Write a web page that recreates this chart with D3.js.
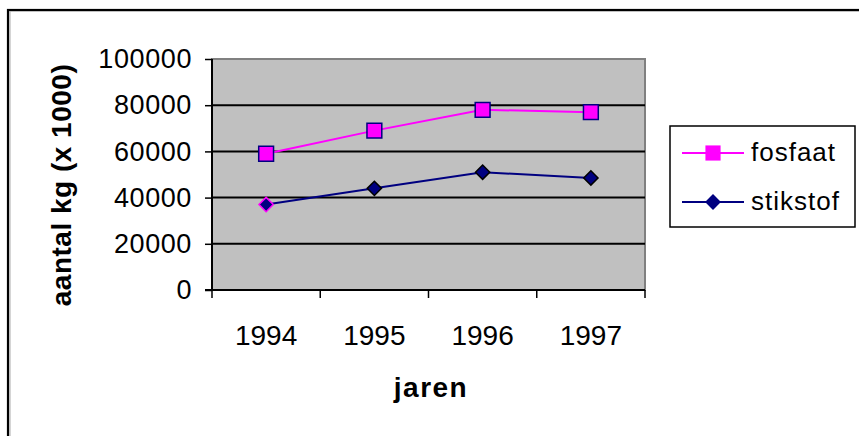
<!DOCTYPE html>
<html>
<head>
<meta charset="utf-8">
<script src="https://cdn.jsdelivr.net/npm/d3@7"></script>
<style>
  body { margin: 0; background: #fff; }
  text { font-family: Arial, "Liberation Sans", sans-serif; }
</style>
</head>
<body>
<svg id="body" width="859" height="436"></svg>
<script>
// data
let jaren = ["1994", "1995", "1996", "1997"];
let fosfaat = [59000, 69000, 78000, 77000];
let stikstof = [37000, 44000, 51000, 48500];
let yTicks = [0, 20000, 40000, 60000, 80000, 100000];
let reeksen = ["fosfaat", "stikstof"];

let svg = d3.select("#body");

// outer chart border (runs off the right and bottom)
svg.append("rect")
    .attr("x", 10).attr("y", 11)
    .attr("width", 1000).attr("height", 1000)
    .attr("fill", "none")
    .attr("stroke", "#c8c8c8")
    .attr("stroke-width", 1.5);
svg.append("rect")
    .attr("x", 8).attr("y", 10)
    .attr("width", 1000).attr("height", 1000)
    .attr("fill", "none")
    .attr("stroke", "#000")
    .attr("stroke-width", 2.2);

let xScale = d3.scaleBand()
    .domain(jaren)
    .range([212, 645]);

let yScale = d3.scaleLinear()
    .domain([0, 100000])
    .range([290, 59]);

// plot area
svg.append("rect")
    .attr("x", 212).attr("y", yScale(100000))
    .attr("width", 645 - 212).attr("height", yScale(0) - yScale(100000))
    .attr("fill", "#c0c0c0")
    .attr("stroke", "#808080")
    .attr("stroke-width", 2);

// gridlines
svg.append("g")
    .selectAll("line")
    .data(yTicks.filter(d => d > 0 && d < 100000))
    .enter()
    .append("line")
    .attr("x1", 212).attr("x2", 645)
    .attr("y1", d => yScale(d)).attr("y2", d => yScale(d))
    .attr("stroke", "#000")
    .attr("stroke-width", 2);

// y axis
let yAxis = d3.axisLeft(yScale)
    .tickValues(yTicks)
    .tickSize(7)
    .tickPadding(13)
    .tickFormat(d3.format("d"));

svg.append("g")
    .attr("id", "yAxis")
    .attr("transform", "translate(212, 0)")
    .call(yAxis)
    .call(g => g.select(".domain").attr("stroke-width", 2).attr("d", "M0,59V290"))
    .call(g => g.selectAll(".tick line").attr("stroke-width", 1.5))
    .call(g => g.selectAll("text")
        .attr("font-size", 27)
        .attr("letter-spacing", 0.6)
        .attr("fill", "#000")
        .attr("font-family", "Arial, 'Liberation Sans', sans-serif"));

// x axis: line, ticks at category boundaries, labels in the middle
let xAxis = svg.append("g").attr("id", "xAxis");
xAxis.append("line")
    .attr("x1", 205).attr("x2", 645)
    .attr("y1", 290).attr("y2", 290)
    .attr("stroke", "#000").attr("stroke-width", 2);
xAxis.selectAll(".grens")
    .data(jaren.map(d => xScale(d)).concat([xScale.range()[1]]))
    .enter()
    .append("line")
    .attr("class", "grens")
    .attr("x1", d => d).attr("x2", d => d)
    .attr("y1", 290).attr("y2", 298)
    .attr("stroke", "#000").attr("stroke-width", 1.5);
xAxis.selectAll(".label")
    .data(jaren)
    .enter()
    .append("text")
    .attr("class", "label")
    .attr("x", d => xScale(d) + xScale.bandwidth() / 2)
    .attr("y", 345)
    .attr("text-anchor", "middle")
    .attr("font-size", 28)
    .text(d => d);

// axis titles
svg.append("text")
    .attr("x", 431).attr("y", 397)
    .attr("text-anchor", "middle")
    .attr("font-size", 28)
    .attr("font-weight", "bold")
    .attr("letter-spacing", 1.5)
    .text("jaren");

svg.append("text")
    .attr("transform", "translate(71, 185) rotate(-90)")
    .attr("text-anchor", "middle")
    .attr("font-size", 28)
    .attr("font-weight", "bold")
    .attr("letter-spacing", 0.5)
    .text("aantal kg (x 1000)");

// lines
let cx = (d, i) => xScale(jaren[i]) + xScale.bandwidth() / 2;
let lijn = d3.line()
    .x(cx)
    .y(d => yScale(d));

svg.append("path")
    .datum(fosfaat)
    .attr("d", lijn)
    .attr("fill", "none")
    .attr("stroke", "#ff00ff")
    .attr("stroke-width", 2);

svg.append("path")
    .datum(stikstof)
    .attr("d", lijn)
    .attr("fill", "none")
    .attr("stroke", "#000080")
    .attr("stroke-width", 2);

// markers
let vierkant = d3.symbol().type(d3.symbolSquare).size(220);
let ruit = d3.symbol().type(d3.symbolDiamond2).size(130);

svg.append("g")
    .selectAll("path")
    .data(fosfaat)
    .enter()
    .append("path")
    .attr("d", vierkant)
    .attr("transform", (d, i) => "translate(" + cx(d, i) + "," + yScale(d) + ")")
    .attr("fill", "#ff00ff")
    .attr("stroke", "#000080")
    .attr("stroke-width", 1.5);

svg.append("g")
    .selectAll("path")
    .data(stikstof)
    .enter()
    .append("path")
    .attr("d", ruit)
    .attr("transform", (d, i) => "translate(" + cx(d, i) + "," + yScale(d) + ")")
    .attr("fill", "#000080")
    // the first diamond has a magenta edge in the original
    .attr("stroke", (d, i) => i === 0 ? "#ff00ff" : "#000")
    .attr("stroke-width", 1.5);

// legend
let legend = svg.append("g").attr("id", "legend");
legend.append("rect")
    .attr("x", 670).attr("y", 126)
    .attr("width", 185).attr("height", 101)
    .attr("fill", "#fff")
    .attr("stroke", "#000")
    .attr("stroke-width", 1.5);

let legendY = d3.scalePoint()
    .domain(reeksen)
    .range([153, 202]);
let kleur = d3.scaleOrdinal()
    .domain(reeksen)
    .range(["#ff00ff", "#000080"]);

legend.selectAll(".lijn")
    .data(reeksen)
    .enter()
    .append("line")
    .attr("class", "lijn")
    .attr("x1", 682).attr("x2", 744)
    .attr("y1", d => legendY(d)).attr("y2", d => legendY(d))
    .attr("stroke", d => kleur(d))
    .attr("stroke-width", 2);

legend.append("path")
    .attr("d", d3.symbol().type(d3.symbolSquare).size(230))
    .attr("transform", "translate(713," + legendY("fosfaat") + ")")
    .attr("fill", "#ff00ff");

legend.append("path")
    .attr("d", d3.symbol().type(d3.symbolDiamond2).size(160))
    .attr("transform", "translate(713," + legendY("stikstof") + ")")
    .attr("fill", "#000080");

legend.selectAll(".naam")
    .data(reeksen)
    .enter()
    .append("text")
    .attr("class", "naam")
    .attr("x", 751)
    .attr("y", d => legendY(d) + 8)
    .attr("font-size", 26)
    .attr("letter-spacing", 1)
    .text(d => d);
</script>
</body>
</html>
